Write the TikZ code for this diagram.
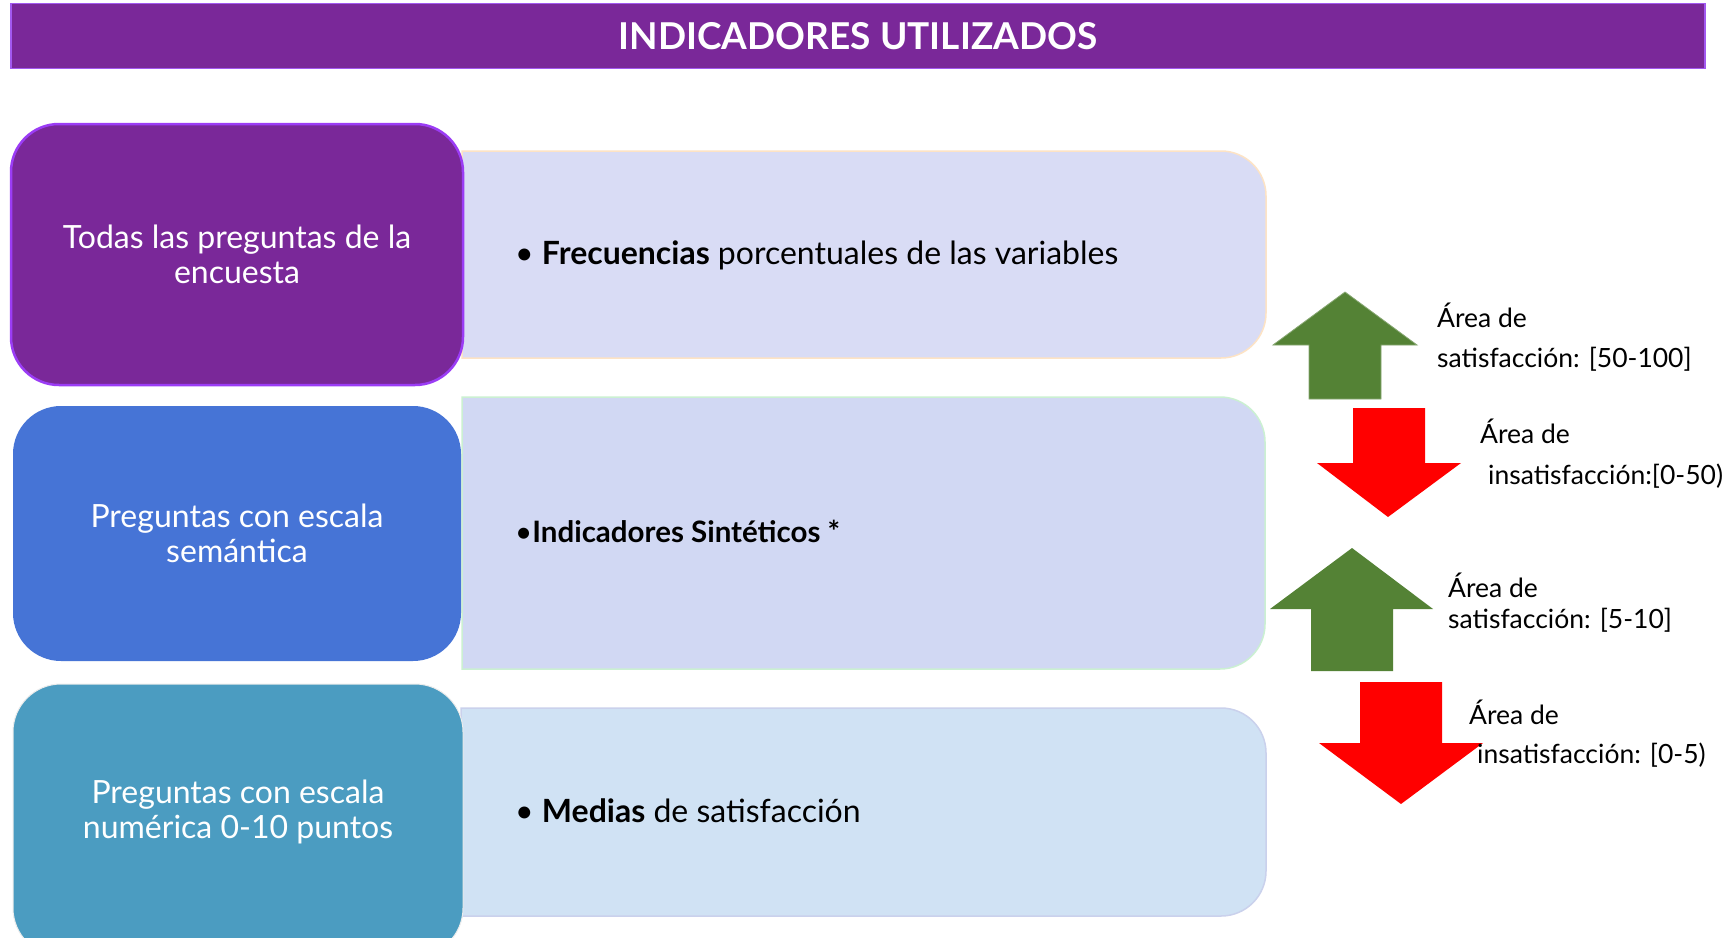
\documentclass[tikz,border=0pt]{standalone}
\usepackage{fontspec}
\setmainfont{Lato}
\definecolor{titlefill}{HTML}{7A2899}
\definecolor{titleline}{HTML}{A259F0}
\definecolor{boxAfill}{HTML}{7A2899}
\definecolor{boxAline}{HTML}{9B3CF5}
\definecolor{boxBfill}{HTML}{4674D6}
\definecolor{boxCfill}{HTML}{4B9CC1}
\definecolor{panAfill}{HTML}{D9DCF5}
\definecolor{panAline}{HTML}{FDE3C5}
\definecolor{panBfill}{HTML}{D1D8F3}
\definecolor{panBline}{HTML}{CBF0D2}
\definecolor{panCfill}{HTML}{D0E2F4}
\definecolor{panCline}{HTML}{CAD1EC}
\definecolor{upgreen}{HTML}{548235}
\definecolor{downred}{HTML}{FF0000}
\tikzset{
  titlebar/.style={fill=titlefill, draw=titleline, line width=1.5pt, inner sep=0pt,
    minimum width=1694pt, minimum height=65pt, text=white,
    font=\fontsize{37}{44}\selectfont\bfseries},
  leftbox/.style={rounded corners=48pt, inner sep=0pt, text=white, align=center,
    font=\fontsize{32}{35}\selectfont},
  panel/.style={line width=1.5pt},
  paneltext/.style={anchor=base west, inner sep=0pt, text=black,
    font=\fontsize{32}{36}\selectfont},
  arrowtext/.style={anchor=base west, inner sep=0pt, text=black,
    font=\fontsize{26.5}{32}\selectfont},
}
\begin{document}
\begin{tikzpicture}[x=1pt,y=1pt]
\useasboundingbox (0,0) rectangle (1734,-937);
\fill[white] (0,0) rectangle (1734,-937);

% title
\node[titlebar] (title) at (858,-36) {INDICADORES UTILIZADOS};

% right panels (square left corners, rounded right corners)
\draw[panel, fill=panAfill, draw=panAline] (462,-151) -- (1221,-151)
  arc[start angle=90, end angle=0, radius=45] -- (1266,-313)
  arc[start angle=0, end angle=-90, radius=45] -- (462,-358) -- cycle;
\draw[panel, fill=panBfill, draw=panBline] (462,-397) -- (1220,-397)
  arc[start angle=90, end angle=0, radius=45] -- (1265,-624)
  arc[start angle=0, end angle=-90, radius=45] -- (462,-669) -- cycle;
\draw[panel, fill=panCfill, draw=panCline] (461,-708) -- (1221,-708)
  arc[start angle=90, end angle=0, radius=45] -- (1266,-871)
  arc[start angle=0, end angle=-90, radius=45] -- (461,-916) -- cycle;

% left boxes
\node[leftbox, fill=boxAfill, draw=boxAline, line width=2.5pt,
  minimum width=452pt, minimum height=261pt] (boxA) at (237,-254.5)
  {Todas las preguntas de la\\encuesta};
\node[leftbox, fill=boxBfill, minimum width=448pt, minimum height=255pt]
  (boxB) at (237,-533.5) {Preguntas con escala\\semántica};
\node[leftbox, fill=boxCfill, draw=white!85!gray, line width=1pt,
  minimum width=450pt, minimum height=272pt] (boxC) at (238,-820) {};
\node[text=white, align=center, font=\fontsize{32}{35}\selectfont, inner sep=0pt]
  (boxCtext) at (238,-812) {Preguntas con escala\\numérica 0-10 puntos};

% panel texts
\node[paneltext] (txtA) at (515,-264) {• \textbf{Frecuencias} porcentuales de las variables};
\node[paneltext, font=\fontsize{29.5}{36}\selectfont] (txtB) at (515,-542) {•\textbf{Indicadores Sintéticos *}};
\node[paneltext] (txtC) at (515,-822) {• \textbf{Medias} de satisfacción};

% block arrows
\fill[upgreen, draw=upgreen!70!white, line width=0.8pt]
  (1345,-292) -- (1417,-345) -- (1381,-345) -- (1381,-399) -- (1309,-399)
  -- (1309,-345) -- (1273,-345) -- cycle;
\fill[downred] (1353,-408) -- (1425,-408) -- (1425,-463) -- (1461,-463)
  -- (1388,-517) -- (1317,-463) -- (1353,-463) -- cycle;
\fill[upgreen] (1352,-548) -- (1433,-609) -- (1393,-609) -- (1393,-671)
  -- (1311,-671) -- (1311,-609) -- (1270,-609) -- cycle;
\fill[downred] (1360,-682) -- (1442,-682) -- (1442,-743) -- (1483,-743)
  -- (1401,-804) -- (1319,-743) -- (1360,-743) -- cycle;

% arrow labels
\node[arrowtext] (labA1) at (1437,-327) {Área de};
\node[arrowtext] (labA2) at (1437,-367) {satisfacción: [50-100]};
\node[arrowtext] (labB1) at (1480,-443) {Área de};
\node[arrowtext] (labB2) at (1488,-484) {insatisfacción:[0-50)};
\node[arrowtext] (labC1) at (1448,-597) {Área de};
\node[arrowtext] (labC2) at (1448,-628) {satisfacción: [5-10]};
\node[arrowtext] (labD1) at (1469,-724) {Área de};
\node[arrowtext] (labD2) at (1477,-763) {insatisfacción: [0-5)};
\end{tikzpicture}
\end{document}
